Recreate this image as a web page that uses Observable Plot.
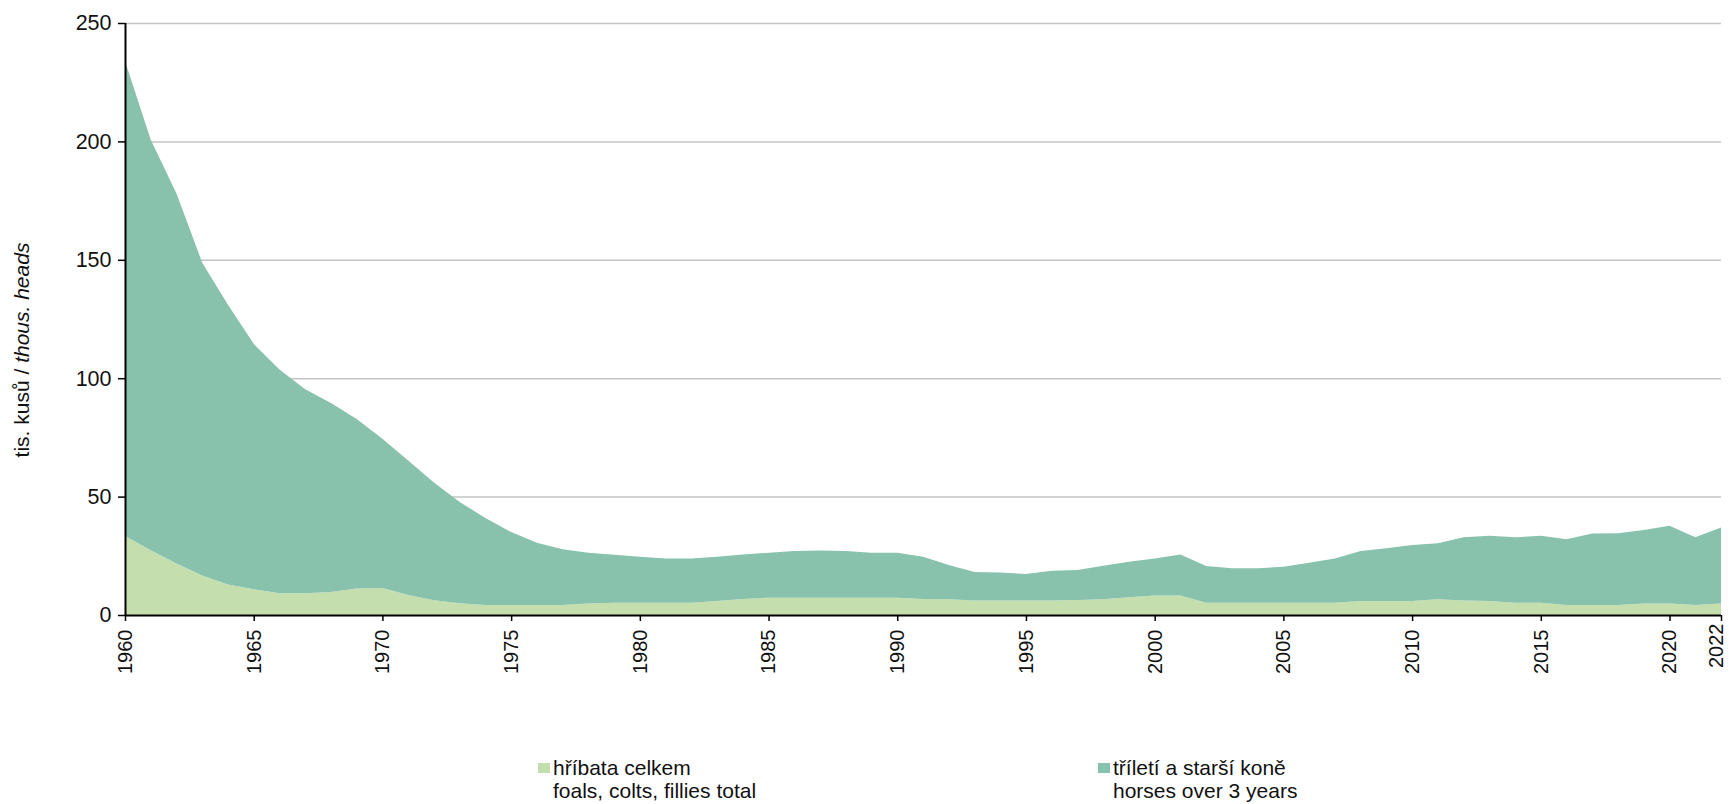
<!DOCTYPE html>
<html>
<head>
<meta charset="utf-8">
<script src="https://cdn.jsdelivr.net/npm/d3@7"></script>
<script src="https://cdn.jsdelivr.net/npm/@observablehq/plot@0.6"></script>
<style>
  body { margin: 0; background: #fff; font-family: "Liberation Sans", Arial, sans-serif; }
  #wrap { position: relative; width: 1729px; height: 804px; }
  .leg { position: absolute; font-size: 21px; line-height: 23px; color: #111; white-space: nowrap; }
  .sw { position: absolute; width: 12px; height: 10px; }
</style>
</head>
<body>
<div id="wrap"></div>
<script>
const years = d3.range(1960, 2023);
const foals = [33.4,27.3,21.7,16.7,12.9,10.9,9.2,9.2,9.7,11.2,11.4,8.4,6.2,5.0,4.2,4.2,4.2,4.2,4.9,5.2,
  5.2,5.2,5.2,5.9,6.8,7.3,7.3,7.3,7.3,7.3,7.3,6.8,6.6,6.1,6.1,6.1,6.1,6.3,6.6,7.5,
  8.2,8.2,5.2,5.2,5.2,5.2,5.2,5.2,5.9,5.9,5.9,6.6,6.1,5.9,5.2,5.2,4.2,4.2,4.2,4.9,
  4.9,4.2,4.9];
const olderHorses = [200.6,173.4,156.3,132.1,118.1,103.6,94.5,86.1,79.8,71.6,63.0,56.8,49.8,42.7,36.8,30.8,26.3,23.6,21.4,20.2,
  19.4,18.7,18.7,18.7,18.8,19.0,19.7,19.9,19.7,19.0,19.0,17.8,14.5,12.1,11.8,11.2,12.6,12.7,14.2,15.0,
  15.7,17.4,15.5,14.5,14.5,15.2,16.9,18.7,21.1,22.3,23.7,23.7,26.7,27.6,27.6,28.3,27.8,30.2,30.3,31.0,
  32.8,28.6,32.1];
const seriesNames = ["hříbata celkem", "tříletí a starší koně"];
const seriesEnglish = ["foals, colts, fillies total", "horses over 3 years"];
const seriesColors = ["#c4deae", "#88c2ad"];
const yTicks = [0, 50, 100, 150, 200, 250];
const xTicks = [1960, 1965, 1970, 1975, 1980, 1985, 1990, 1995, 2000, 2005, 2010, 2015, 2020];
const lastYear = 2022;

const rows = [];
years.forEach((yr, i) => {
  rows.push({year: yr, series: seriesNames[0], value: foals[i]});
  rows.push({year: yr, series: seriesNames[1], value: olderHorses[i]});
});

const xAxisOpts = {tickFormat: d => String(d), tickRotate: -90, tickSize: 6, tickPadding: 8, label: null, fontSize: 20, stroke: "#000", strokeWidth: 1.5};

const chart = Plot.plot({
  width: 1729,
  height: 700,
  marginLeft: 125,
  marginRight: 8,
  marginTop: 23,
  marginBottom: 85,
  style: {fontFamily: "'Liberation Sans', Arial, sans-serif", fontSize: "20px", color: "#111", background: "#fff"},
  x: {type: "linear", domain: [1960, 2022]},
  y: {domain: [0, 250]},
  color: {domain: seriesNames, range: seriesColors},
  marks: [
    Plot.gridY(yTicks.filter(d => d > 0), {stroke: "#c4c4c4", strokeOpacity: 1, strokeWidth: 1.5}),
    Plot.areaY(rows, {x: "year", y: "value", fill: "series", order: seriesNames, curve: "linear"}),
    Plot.axisY({ticks: yTicks, tickSize: 7, tickPadding: 7, label: null, fontSize: 21.5, stroke: "#000", strokeWidth: 1.5}),
    Plot.axisX({ticks: xTicks, ...xAxisOpts}),
    Plot.axisX({ticks: [lastYear], ...xAxisOpts, text: null}),
    Plot.axisX({ticks: [lastYear], ...xAxisOpts, tickSize: 0, dx: -5}),
    Plot.ruleX([1960], {stroke: "#000", strokeWidth: 2}),
    Plot.ruleY([0], {stroke: "#000", strokeWidth: 2})
  ]
});

const wrap = document.getElementById("wrap");
wrap.appendChild(chart);

// y-axis title with italic English part
const svg = d3.select(chart);
const t = svg.append("text")
  .attr("transform", "translate(29,350) rotate(-90)")
  .attr("text-anchor", "middle")
  .attr("font-size", 21)
  .attr("fill", "#111");
t.append("tspan").text("tis. kusů / ");
t.append("tspan").attr("font-style", "italic").text("thous. heads");

// legend
const legPos = [538, 1098];
seriesNames.forEach((name, i) => {
  const sw = document.createElement("div");
  sw.className = "sw";
  sw.style.left = legPos[i] + "px";
  sw.style.top = "763px";
  sw.style.background = seriesColors[i];
  wrap.appendChild(sw);
  const lg = document.createElement("div");
  lg.className = "leg";
  lg.style.left = (legPos[i] + 15) + "px";
  lg.style.top = "756px";
  lg.innerHTML = name + "<br>" + seriesEnglish[i];
  wrap.appendChild(lg);
});
</script>
</body>
</html>
